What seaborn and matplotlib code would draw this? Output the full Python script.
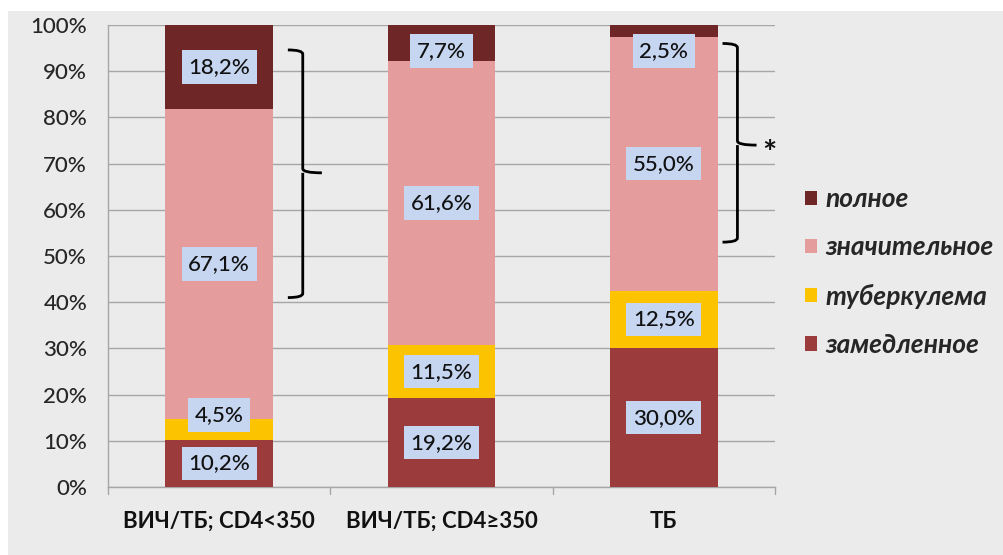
import matplotlib
matplotlib.use("Agg")
import matplotlib.pyplot as plt
from matplotlib.patches import Rectangle
from matplotlib.path import Path
from matplotlib.patches import PathPatch
import numpy as np
import pandas as pd
import seaborn as sns

# Treatment-outcome shares (%) per patient group, stacked bottom to top
groups = ["ВИЧ/ТБ; CD4<350", "ВИЧ/ТБ; CD4≥350", "ТБ"]
series = ["замедленное", "туберкулема", "значительное", "полное"]
zamedlennoe = [10.2, 19.2, 30.0]
tuberkulema = [4.5, 11.5, 12.5]
znachitelnoe = [67.1, 61.6, 55.0]
polnoe = [18.2, 7.7, 2.5]
yticks = [0, 10, 20, 30, 40, 50, 60, 70, 80, 90, 100]

colors = {
    "замедленное": "#9c3b3b",
    "туберкулема": "#fcc400",
    "значительное": "#e59c9c",
    "полное": "#6f2626",
}

values = np.array([zamedlennoe, tuberkulema, znachitelnoe, polnoe])
cumulative = values.cumsum(axis=0)

sns.set_style("white")
FONT = ["Lato", "DejaVu Sans"]
plt.rcParams["font.family"] = FONT

fig = plt.figure(figsize=(10.04, 5.55), dpi=100)
fig.patch.set_facecolor("white")
fig.add_artist(Rectangle((8 / 1004, 0), 1, 1 - 11 / 555, transform=fig.transFigure,
                         facecolor="#ebebeb", edgecolor="none", zorder=-10))

ax = fig.add_axes([108 / 1004, 1 - 487 / 555, (775 - 108) / 1004, (487 - 25) / 555])
ax.set_facecolor("none")

# Stacked bars: draw running totals from the top series down so each layer covers the next
for i in range(len(series) - 1, -1, -1):
    df = pd.DataFrame({"group": groups, "value": cumulative[i]})
    sns.barplot(data=df, x="group", y="value", color=colors[series[i]], width=0.485,
                saturation=1, edgecolor="none", ax=ax, zorder=3)

# Value labels centred in their segments, nudged apart where they would overlap
min_gap = 10.5
top_limit = 94.4
for j in range(len(groups)):
    prev = -np.inf
    for i in range(len(series)):
        lo = cumulative[i, j] - values[i, j]
        y = (lo + cumulative[i, j]) / 2
        if y - prev < min_gap:
            y = prev + min_gap
        y = min(y, top_limit)
        prev = y
        txt = f"{values[i, j]:.1f}%".replace(".", ",")
        ax.text(j, y, txt, ha="center", va="center", fontsize=16, fontweight="medium",
                color="#111111", zorder=5,
                bbox=dict(boxstyle="square,pad=0.3", facecolor="#c6d5f0", edgecolor="none"))

# Curly braces marking the combined response
def brace(ax, x, y_top, y_bot, y_mid, hook=0.067, tip=0.086, r=0.9):
    verts = [
        (x - hook, y_top), (x, y_top), (x, y_top - r),
        (x, y_mid + r), (x, y_mid), (x + tip, y_mid),
        (x, y_mid), (x, y_mid - r),
        (x, y_bot + r), (x, y_bot), (x - hook, y_bot),
    ]
    codes = [Path.MOVETO, Path.CURVE3, Path.CURVE3,
             Path.LINETO, Path.CURVE3, Path.CURVE3,
             Path.MOVETO, Path.LINETO,
             Path.LINETO, Path.CURVE3, Path.CURVE3]
    ax.add_patch(PathPatch(Path(verts, codes), facecolor="none", edgecolor="black",
                           lw=2.0, zorder=6, clip_on=False))

brace(ax, 0.376, 94.6, 41.0, 68.0)
brace(ax, 2.331, 96.0, 53.0, 74.0)
ax.text(2.475, 72.0, "*", ha="center", va="center", fontsize=24, fontweight="bold",
        color="#111111", clip_on=False)

ax.set_ylim(0, 100)
ax.set_xlim(-0.5, 2.5)
ax.set_yticks(yticks)
ax.set_yticklabels([f"{t}%" for t in yticks], fontsize=16, fontweight="medium", color="#262626")
ax.set_xticks([0, 1, 2])
ax.set_xticklabels(groups, fontsize=16, fontweight="bold", color="#111111")
ax.tick_params(axis="x", length=0, pad=17)
ax.tick_params(axis="y", length=7, color="#a6a6a6", pad=8)
ax.set_xlabel("")
ax.set_ylabel("")

# Category boundary ticks on the x axis
for b in [-0.5, 0.5, 1.5, 2.5]:
    ax.plot([b, b], [0, -1.6], color="#a6a6a6", lw=1, clip_on=False, zorder=2)

ax.yaxis.grid(True, color="#a6a6a6", lw=1, zorder=0)
ax.set_axisbelow(True)
for side in ["top", "right"]:
    ax.spines[side].set_visible(False)
for side in ["left", "bottom"]:
    ax.spines[side].set_color("#a6a6a6")
    ax.spines[side].set_linewidth(1)

handles = [Rectangle((0, 0), 1, 1, facecolor=colors[s], edgecolor="none") for s in series[::-1]]
leg = fig.legend(handles, series[::-1], loc="center left", bbox_to_anchor=(800 / 1004, 1 - 272 / 555),
                 frameon=False, handlelength=0.45, handleheight=0.45, handletextpad=0.3,
                 borderaxespad=0, borderpad=0.2,
                 labelspacing=0.92, prop=dict(family=FONT, size=19,
                                              weight="bold", style="italic"))

fig.savefig("out.png", dpi=100)
